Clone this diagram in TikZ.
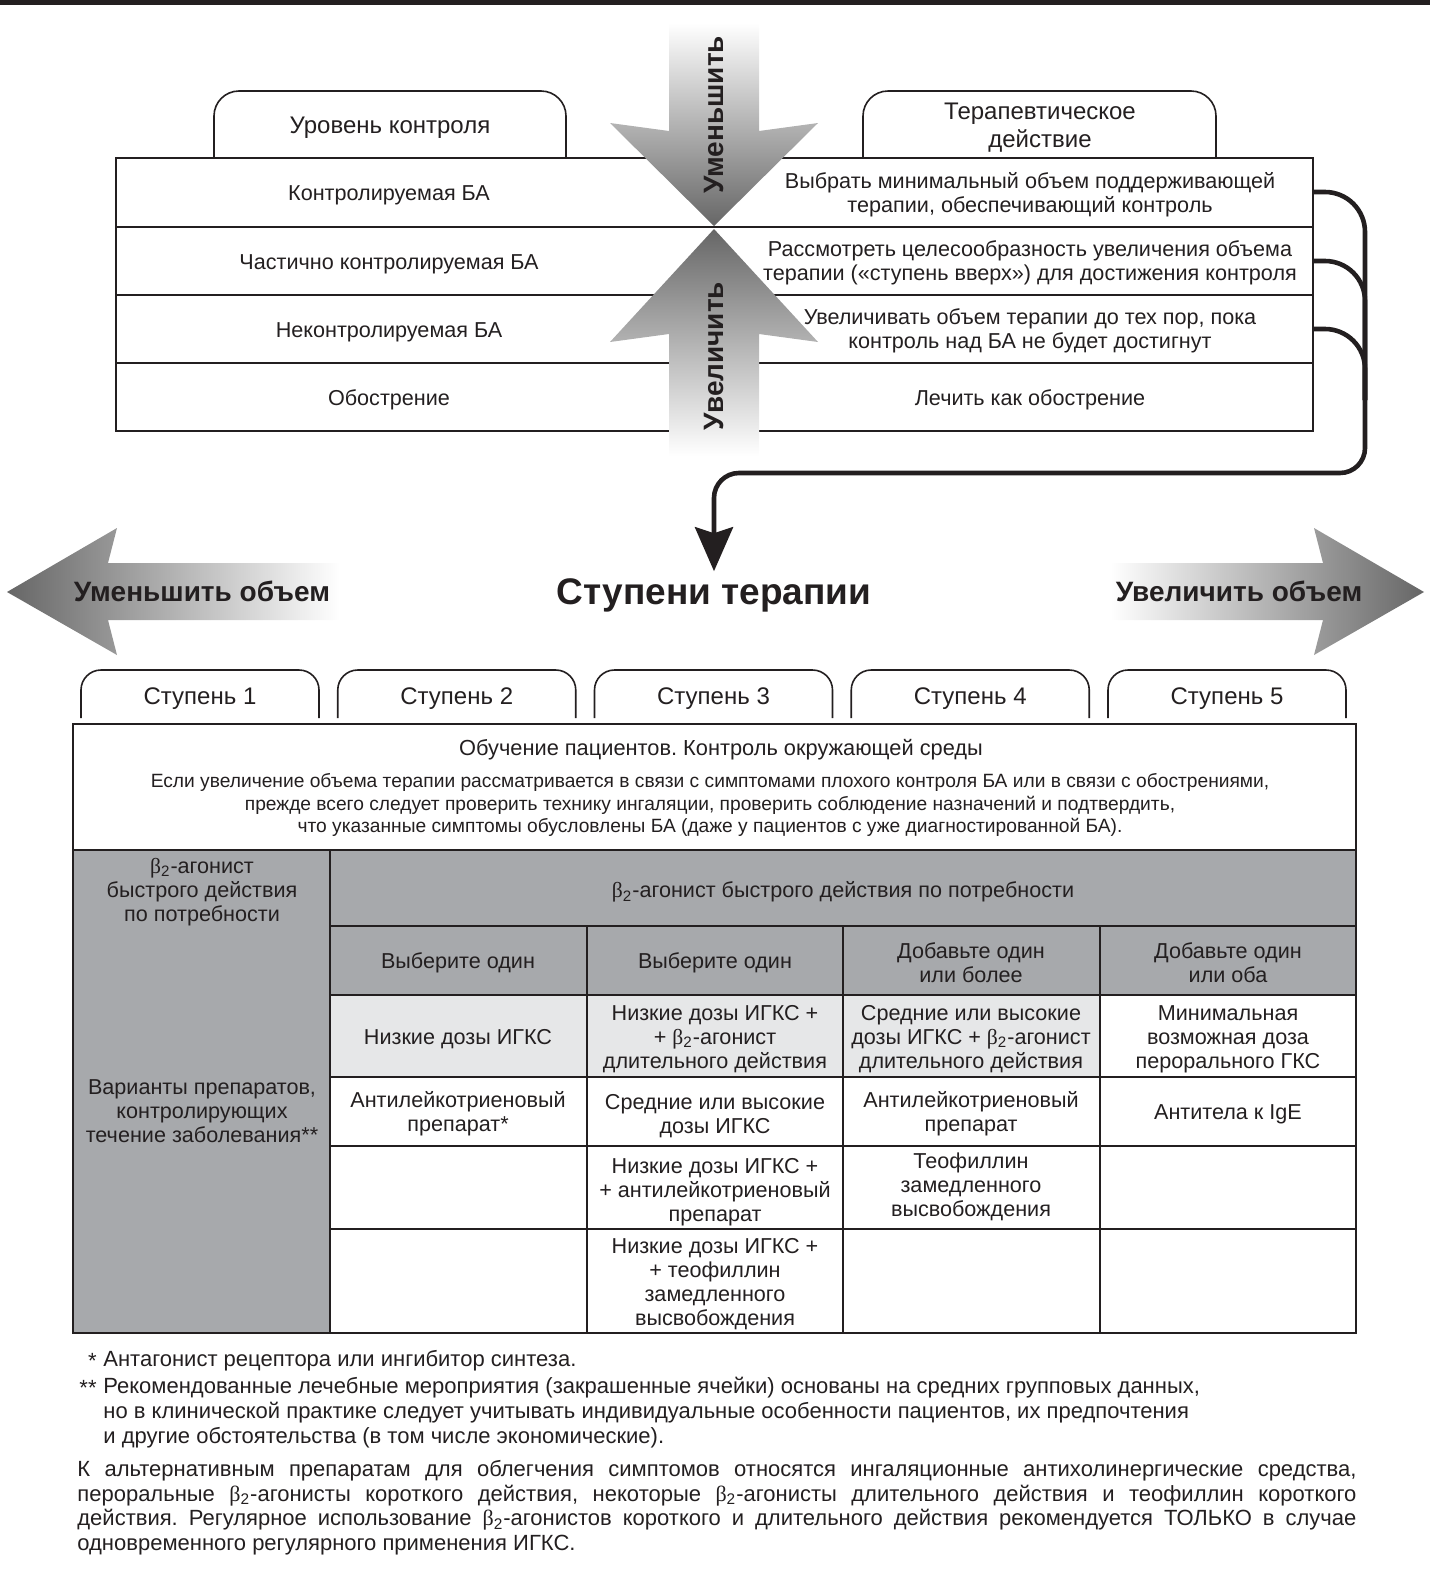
\documentclass[tikz,border=0pt]{standalone}
\usepackage{fontspec}
\setmainfont{Liberation Sans}
\newfontfamily\grfont{Liberation Serif}
\usetikzlibrary{arrows.meta}
\frenchspacing

\definecolor{ink}{HTML}{231F20}
\definecolor{darkcell}{HTML}{A7A9AC}
\definecolor{lightcell}{HTML}{E6E7E8}
\newcommand{\btwo}{{\grfont β}\textsubscript{2}}

\tikzset{
  txt/.style={inner sep=0pt, align=center, text=ink, yshift=-1.5pt, font=\fontsize{10.8}{12}\selectfont},
  tabtxt/.style={inner sep=0pt, align=center, text=ink, yshift=-1.5pt, font=\fontsize{12}{14}\selectfont},
  arrtxt/.style={inner sep=0pt, text=ink, font=\fontsize{14}{16}\selectfont\bfseries},
  fntxt/.style={inner sep=0pt, text=ink, font=\fontsize{11}{12.5}\selectfont},
  grid/.style={draw=ink, line width=0.8pt},
  bracket/.style={draw=ink, line width=2.3pt},
}

\begin{document}
\begin{tikzpicture}[x=0.5pt,y=-0.5pt]
\useasboundingbox (0,0) rectangle (1430,1569);
\fill[ink] (0,0) rectangle (1430,5);

          \draw[grid, rounded corners=12.5pt] (214,158) -- (214,91) -- (566,91) -- (566,158);
          \draw[grid, rounded corners=12.5pt] (863,158) -- (863,91) -- (1216,91) -- (1216,158);
          \node[tabtxt] (lvl) at (390,125) {Уровень контроля};
          \node[tabtxt] (act) at (1040,125) {Терапевтическое\\действие};

     \draw[grid] (116,158) rectangle (1313,431);
     \foreach \y in {227,295,363}
             {
               \draw[grid] (116,\y) -- (1313,\y);
             }

     \shade[top color=white, bottom color=black!60]
           (669,23) -- (759,23) -- (759,131) -- (818,123)
        -- (714,226) -- (610,123) -- (669,131) -- cycle;
     \shade[top color=black!60, bottom color=white]
           (714,229) -- (818,342) -- (759,334) -- (759,456)
        -- (669,456) -- (669,334) -- (610,342) -- cycle;
     \node[arrtxt, rotate=90] (down) at (714,115) {Уменьшить};
     \node[arrtxt, rotate=90] (up) at (714,356) {Увеличить};

     \node[txt] (ctl1) at (389,192) {Контролируемая БА};
     \node[txt] (ctl2) at (389,261) {Частично контролируемая БА};
     \node[txt] (ctl3) at (389,329) {Неконтролируемая БА};
     \node[txt] (ctl4) at (389,397) {Обострение};
     \node[txt] (act1) at (1030,192) {Выбрать минимальный объем поддерживающей\\терапии, обеспечивающий контроль};
     \node[txt] (act2) at (1030,260) {Рассмотреть целесообразность увеличения объема\\терапии («ступень вверх») для достижения контроля};
     \node[txt] (act3) at (1030,328) {Увеличивать объем терапии до тех пор, пока\\контроль над БА не будет достигнут};
     \node[txt] (act4) at (1030,397) {Лечить как обострение};

     \coordinate (e1) at (1313,192);
     \coordinate (e2) at (1313,261);
     \coordinate (e3) at (1313,329);
     \coordinate (knee) at (1365,400);

     \shade[left color=black!60, right color=white]
           (7,592) -- (117,528) -- (108,563) -- (340,563)
        -- (340,620) -- (108,620) -- (117,655) -- cycle;
     \shade[left color=white, right color=black!60]
           (1424,592) -- (1314,528) -- (1323,563) -- (1110,563)
        -- (1110,620) -- (1323,620) -- (1314,655) -- cycle;
     \node[arrtxt] (less) at (202,591) {Уменьшить объем};
     \node[arrtxt] (more) at (1239,591) {Увеличить объем};
     \node[inner sep=0.333em, text=ink, font=\fontsize{18.5}{20}\selectfont\bfseries] (title) at (714,595) {Ступени терапии};

     \draw[bracket, rounded corners=20pt] (e1) -- (1365,192) -- (knee);
     \draw[bracket, rounded corners=20pt] (e2) -- (1365,261) -- (knee);
     \draw[bracket, rounded corners=20pt] (e3) -- (1365,329) -- (knee);
     \draw[bracket, rounded corners=12.5pt, -{Stealth[length=22pt,width=19pt,inset=3pt]}]
           (knee) -- (1365,473) -- (714,473) -- (title.north);

     \foreach \i in {1,...,5}
             {
               \pgfmathsetmacro{\xa}{81+256.75*(\i-1)}
               \draw[grid, rounded corners=10pt] (\xa,718) -- (\xa,670) -- (\xa+238,670) -- (\xa+238,718);
               \node[tabtxt] (step\i) at (\xa+119,696) {Ступень \i};
             }

     \fill[darkcell] (73,850) rectangle (330,1333);
     \fill[darkcell] (330,850) rectangle (1356,995);
     \fill[lightcell] (330,995) rectangle (1100,1077);
     \draw[grid] (73,724) rectangle (1356,1333);
     \draw[grid] (73,850) -- (1356,850);
     \draw[grid] (330,926) -- (1356,926);
     \draw[grid] (330,850) -- (330,1333);
     \foreach \y in {995,1077,1146,1229}
             {
               \draw[grid] (330,\y) -- (1356,\y);
             }
     \foreach \x in {587,843,1100}
             {
               \draw[grid] (\x,926) -- (\x,1333);
             }

     \node[txt, font=\fontsize{10.9}{12}\selectfont] (edu) at (721,747) {Обучение пациентов. Контроль окружающей среды};
     \node[txt, font=\fontsize{9.6}{11.25}\selectfont] (check) at (710,802) {Если увеличение объема терапии рассматривается в связи с симптомами плохого контроля БА или в связи с обострениями,\\прежде всего следует проверить технику ингаляции, проверить соблюдение назначений и подтвердить,\\что указанные симптомы обусловлены БА (даже у пациентов с уже диагностированной БА).};

     \node[txt] (relief) at (202,889) {\btwo-агонист\\быстрого действия\\по потребности};
     \node[txt] (ctrl) at (202,1108) {Варианты препаратов,\\контролирующих\\течение заболевания**};
     \node[txt] (reliefall) at (843,889) {\btwo-агонист быстрого действия по потребности};

     \node[txt] (h2) at (458,960) {Выберите один};
     \node[txt] (h3) at (715,960) {Выберите один};
     \node[txt] (h4) at (971,960) {Добавьте один\\или более};
     \node[txt] (h5) at (1228,960) {Добавьте один\\или оба};

     \node[txt] (a2) at (458,1036) {Низкие дозы ИГКС};
     \node[txt] (a3) at (715,1036) {Низкие дозы ИГКС +\\+ \btwo-агонист\\длительного действия};
     \node[txt] (a4) at (971,1036) {Средние или высокие\\дозы ИГКС + \btwo-агонист\\длительного действия};
     \node[txt] (a5) at (1228,1036) {Минимальная\\возможная доза\\перорального ГКС};

     \node[txt] (b2) at (458,1111) {Антилейкотриеновый\\препарат*};
     \node[txt] (b3) at (715,1113) {Средние или высокие\\дозы ИГКС};
     \node[txt] (b4) at (971,1111) {Антилейкотриеновый\\препарат};
     \node[txt] (b5) at (1228,1111) {Антитела к IgE};

     \node[txt] (c3) at (715,1189) {Низкие дозы ИГКС +\\+ антилейкотриеновый\\препарат};
     \node[txt] (c4) at (971,1184) {Теофиллин\\замедленного\\высвобождения};

     \node[txt] (d3) at (715,1281) {Низкие дозы ИГКС +\\+ теофиллин\\замедленного\\высвобождения};

     \node[fntxt, anchor=east] (st1) at (97,1361) {*};
     \node[fntxt, anchor=west] (fn1) at (103,1361) {Антагонист рецептора или ингибитор синтеза.};
     \node[fntxt, anchor=east] (st2) at (97,1388) {**};
     \node[fntxt, anchor=north west, align=left] (fn2) at (103,1377) {Рекомендованные лечебные мероприятия (закрашенные ячейки) основаны на средних групповых данных,\\но в клинической практике следует учитывать индивидуальные особенности пациентов, их предпочтения\\и другие обстоятельства (в том числе экономические).};

     \node[fntxt, font=\fontsize{11}{12.35}\selectfont, anchor=north west, text width=639.5pt, align=justify] (alt) at (77,1460)
           {К альтернативным препаратам для облегчения симптомов относятся ингаляционные антихолинергические средства,\linebreak
            пероральные \btwo-агонисты короткого действия, некоторые \btwo-агонисты длительного действия и теофиллин короткого\linebreak
            действия. Регулярное использование \btwo-агонистов короткого и длительного действия рекомендуется ТОЛЬКО в случае\linebreak
            одновременного регулярного применения ИГКС.};

\end{tikzpicture}
\end{document}
